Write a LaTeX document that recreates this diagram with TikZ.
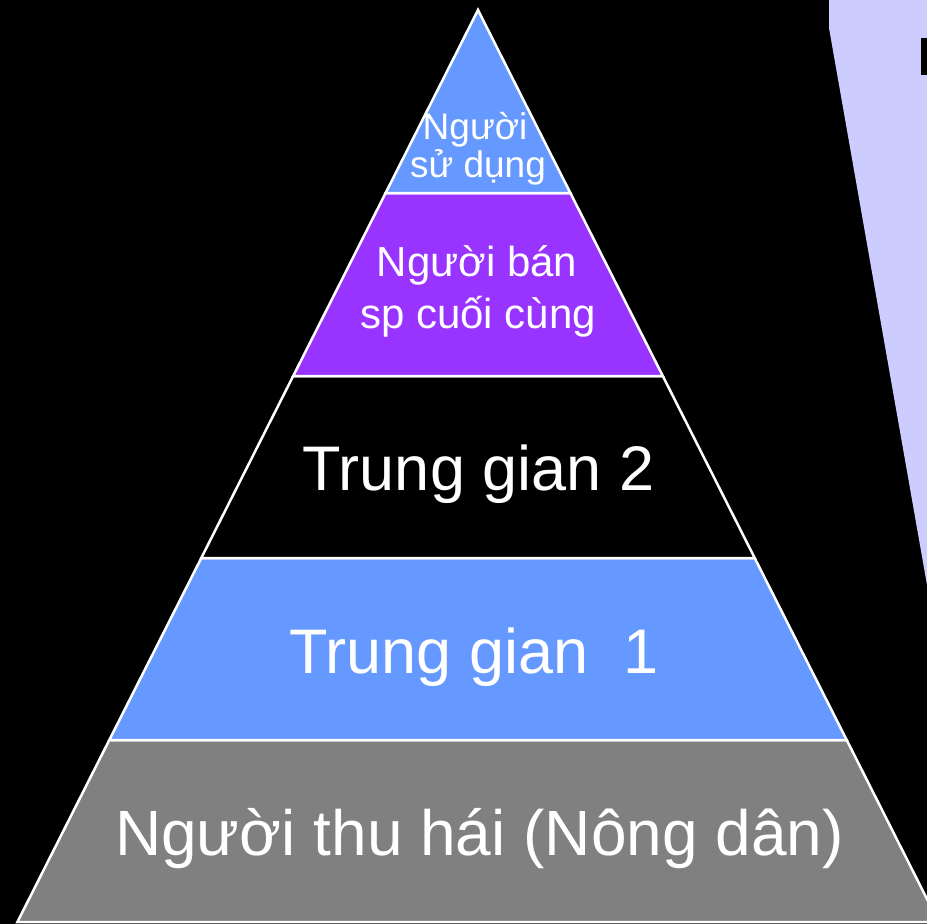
\documentclass[tikz,border=0pt]{standalone}
\usepackage{fontspec}
\setmainfont{Liberation Sans}
\definecolor{skyband}{HTML}{6699FF}
\definecolor{violetband}{HTML}{9933FF}
\definecolor{greyband}{HTML}{808080}
\definecolor{lavender}{HTML}{CCCCFF}
\begin{document}
\begin{tikzpicture}[x=1pt,y=-1pt,
  band/.style={draw=white,line width=2.5pt,line join=miter},
  lbl/.style={text=white,inner sep=0pt,anchor=base}]
\useasboundingbox (0,0) rectangle (927,924);
\fill[black] (0,0) rectangle (927,924);
\clip (0,0) rectangle (927,924);
% lavender panel at top right
\fill[lavender] (829,0) -- (829,28) -- (927,585) -- (927,0) -- cycle;
\fill[black] (921,38) rectangle (927,75);
% pyramid bands
\coordinate (apex) at (478,10);
\coordinate (l1) at (385.6,193); \coordinate (r1) at (570.4,193);
\coordinate (l2) at (293.2,376); \coordinate (r2) at (662.8,376);
\coordinate (l3) at (201.3,558); \coordinate (r3) at (754.7,558);
\coordinate (l4) at (109.3,740); \coordinate (r4) at (846.7,740);
\coordinate (l5) at (17.4,922);  \coordinate (r5) at (938.6,922);
\filldraw[band,fill=greyband] (l4) -- (r4) -- (r5) -- (l5) -- cycle;
\filldraw[band,fill=skyband] (l3) -- (r3) -- (r4) -- (l4) -- cycle;
\filldraw[band,fill=black] (l2) -- (r2) -- (r3) -- (l3) -- cycle;
\filldraw[band,fill=violetband] (l1) -- (r1) -- (r2) -- (l2) -- cycle;
\filldraw[band,fill=skyband] (apex) -- (r1) -- (l1) -- cycle;
% labels
\node[lbl,font=\fontsize{37}{40}\selectfont] (t1a) at (475,139) {Người};
\node[lbl,font=\fontsize{37}{40}\selectfont] (t1b) at (478,177) {sử dụng};
\node[lbl,font=\fontsize{42}{48}\selectfont] (t2a) at (477,276) {Người bán};
\node[lbl,font=\fontsize{42}{48}\selectfont] (t2b) at (478,328) {sp cuối cùng};
\node[lbl,font=\fontsize{63}{72}\selectfont] (t3) at (478.5,490) {Trung gian 2};
\node[lbl,font=\fontsize{63}{72}\selectfont] (t4) at (474,673) {Trung gian~~1};
\node[lbl,font=\fontsize{64}{72}\selectfont] (t5) at (479.5,855) {Người thu hái (Nông dân)};
\end{tikzpicture}
\end{document}
